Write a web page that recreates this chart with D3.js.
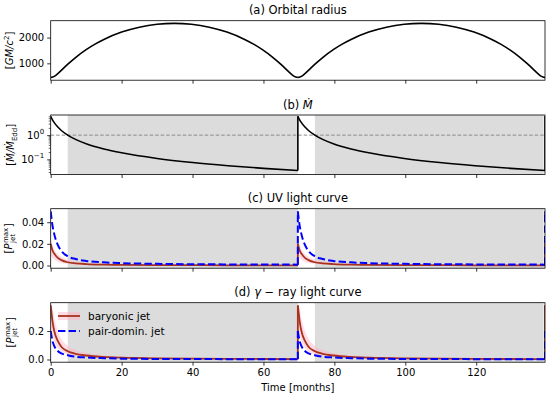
<!DOCTYPE html>
<html>
<head>
<meta charset="utf-8">
<script src="https://cdn.jsdelivr.net/npm/d3@7"></script>
<style>
body { margin: 0; background: #fff; }
text { font-family: "DejaVu Sans", sans-serif; fill: #000; }
</style>
</head>
<body>
<div id="chart"></div>
<script>
// orbit repeats, periastron at each start
var orbitStarts = [0, 69.7, 139.4];

// (a) orbital radius over one orbit
var radiusTime = [0, 1, 2, 3, 4, 5, 7, 10, 12.5, 15, 20, 25, 30, 34.85, 39.7, 44.7, 49.7, 54.7, 57.2, 59.7, 62.7, 64.7, 65.7, 66.7, 67.7, 68.7, 69.7];
var radiusVal = [450, 494, 600, 728, 861, 989, 1226, 1532, 1746, 1928, 2213, 2404, 2515, 2550, 2515, 2404, 2213, 1928, 1746, 1532, 1226, 989, 861, 728, 600, 494, 450];

// time since periastron for the light curves and accretion rate
var lcTime = [0, 0.5, 1, 2, 3, 4.8, 7, 10, 15, 20, 30, 40, 50, 60, 69.7];
var mdot = [6.0, 4.3, 3.29, 2.16, 1.56, 1.0, 0.668, 0.442, 0.269, 0.186, 0.109, 0.074, 0.0547, 0.0426, 0.0346];

var uvPair = [0.050, 0.037, 0.029, 0.019, 0.0135, 0.0085, 0.006, 0.0042, 0.0029, 0.0022, 0.0015, 0.0012, 0.001, 0.0009, 0.0008];
var uvBary = [0.020, 0.014, 0.011, 0.007, 0.005, 0.003, 0.002, 0.0013, 0.0008, 0.0006, 0.0004, 0.0003, 0.0002, 0.0002, 0.00015];
var uvBaryLo = [0.010, 0.007, 0.0055, 0.0035, 0.0025, 0.0015, 0.001, 0.0006, 0.0004, 0.0003, 0.0002, 0.00015, 0.0001, 0.0001, 0.0001];
var uvBaryHi = [0.024, 0.019, 0.015, 0.0105, 0.008, 0.0055, 0.0038, 0.0026, 0.0017, 0.0012, 0.0008, 0.0006, 0.0005, 0.0004, 0.0003];

var gamPair = [0.20, 0.13, 0.095, 0.06, 0.043, 0.03, 0.02, 0.014, 0.009, 0.006, 0.004, 0.003, 0.0025, 0.002, 0.0018];
var gamBary = [0.38, 0.27, 0.20, 0.13, 0.09, 0.058, 0.04, 0.028, 0.018, 0.013, 0.008, 0.006, 0.0045, 0.0035, 0.003];
var gamBaryLo = [0.24, 0.17, 0.125, 0.08, 0.056, 0.036, 0.025, 0.018, 0.011, 0.008, 0.005, 0.0037, 0.0028, 0.0022, 0.0019];
var gamBaryHi = [0.39, 0.36, 0.29, 0.20, 0.145, 0.095, 0.066, 0.046, 0.03, 0.021, 0.013, 0.0095, 0.0072, 0.0056, 0.0048];

// sub-Eddington intervals (shaded)
var shadeSpans = [[4.8, 69.7], [74.5, 139.0]];

var xTicks = [0, 20, 40, 60, 80, 100, 120];

var w = 550, h = 396;
var left = 50.7, right = 545;
var panelTops = [20.7, 115, 208.7, 302.7];
var ph = 59.5;

var redCol = "#a8321f", pinkCol = "#ffb0c4", blueCol = "#0000ff", shadeCol = "#dcdcdc";

var svg = d3.select("#chart").append("svg")
	.attr("width", w)
	.attr("height", h);

var x = d3.scaleLinear().domain([0, 139.4]).range([left, right]);

function makePanel(i, yScale, title) {
	var top = panelTops[i];
	var g = svg.append("g");
	g.append("clipPath").attr("id", "clip" + i)
		.append("rect").attr("x", left).attr("y", top).attr("width", right - left).attr("height", ph);
	var plot = g.append("g").attr("clip-path", "url(#clip" + i + ")");
	var t = g.append("text")
		.attr("x", (left + right) / 2).attr("y", top - 6.5)
		.attr("text-anchor", "middle")
		.attr("font-size", 11.5);
	title(t);
	return {g: g, plot: plot, top: top, y: yScale};
}

function finishPanel(p, yAxis, showX) {
	var xa = d3.axisBottom(x).tickValues(xTicks).tickSize(3.5).tickSizeOuter(0).tickPadding(3);
	if (!showX) xa.tickFormat("");
	var xg = p.g.append("g").attr("transform", "translate(0," + (p.top + ph) + ")").call(xa);
	var yg = p.g.append("g").attr("transform", "translate(" + left + ",0)").call(yAxis);
	[xg, yg].forEach(function(a) {
		a.select(".domain").remove();
		a.selectAll("line").attr("stroke", "#000").attr("stroke-width", 0.8);
		a.selectAll("text").attr("font-size", 10).attr("font-family", "DejaVu Sans");
	});
	p.g.append("rect")
		.attr("x", left).attr("y", p.top).attr("width", right - left).attr("height", ph)
		.attr("fill", "none").attr("stroke", "#000").attr("stroke-width", 0.8);
	return yg;
}

function shade(p) {
	p.plot.selectAll("rect.shade").data(shadeSpans).enter().append("rect")
		.attr("class", "shade")
		.attr("x", function(d) { return x(d[0]); })
		.attr("width", function(d) { return x(d[1]) - x(d[0]); })
		.attr("y", p.top).attr("height", ph)
		.attr("fill", shadeCol);
}

// draws one series for every orbit, plus the jump at each periastron
function drawSeries(p, vals, style) {
	var line = d3.line()
		.x(function(d, k) { return x(lcTime[k] + d.s); })
		.y(function(d) { return p.y(d.v); })
		.curve(d3.curveMonotoneX);
	orbitStarts.forEach(function(s, oi) {
		var pts = vals.map(function(v) { return {s: s, v: v}; });
		var path = p.plot.append("path").attr("d", line(pts)).attr("fill", "none");
		style(path);
		if (oi > 0) {
			var c = p.plot.append("path")
				.attr("d", "M" + x(s) + "," + p.y(vals[vals.length - 1]) + "L" + x(s) + "," + p.y(vals[0]))
				.attr("fill", "none");
			style(c);
		}
	});
}

function drawBand(p, lo, hi) {
	var area = d3.area()
		.x(function(d, k) { return x(lcTime[k] + d.s); })
		.y0(function(d) { return p.y(d.lo); })
		.y1(function(d) { return p.y(d.hi); })
		.curve(d3.curveMonotoneX);
	orbitStarts.forEach(function(s) {
		var pts = lo.map(function(v, k) { return {s: s, lo: v, hi: hi[k]}; });
		p.plot.append("path").attr("d", area(pts))
			.attr("fill", pinkCol).attr("fill-opacity", 0.45);
	});
}

function redStyle(path) { path.attr("stroke", redCol).attr("stroke-width", 1.8); }
function blueStyle(path) { path.attr("stroke", blueCol).attr("stroke-width", 2).attr("stroke-dasharray", "7.4,3.2"); }

// ---- (a) orbital radius
var pa = makePanel(0, d3.scaleLinear().domain([345, 2655]).range([panelTops[0] + ph, panelTops[0]]), function(t) {
	t.text("(a) Orbital radius");
});
var rLine = d3.line()
	.x(function(d) { return x(d.t); })
	.y(function(d) { return pa.y(d.r); })
	.curve(d3.curveMonotoneX);
orbitStarts.forEach(function(s) {
	var pts = radiusTime.map(function(t, k) { return {t: t + s, r: radiusVal[k]}; });
	pa.plot.append("path").attr("d", rLine(pts))
		.attr("fill", "none").attr("stroke", "#000").attr("stroke-width", 1.6);
});
finishPanel(pa, d3.axisLeft(pa.y).tickValues([1000, 2000]).tickFormat(d3.format("d")).tickSize(3.5).tickSizeOuter(0).tickPadding(3), false);

// ---- (b) accretion rate
var pb = makePanel(1, d3.scaleLog().domain([0.0237, 6.8]).range([panelTops[1] + ph, panelTops[1]]), function(t) {
	t.append("tspan").text("(b) ");
	t.append("tspan").attr("font-style", "italic").text("Ṁ");
});
shade(pb);
pb.plot.append("line")
	.attr("x1", left).attr("x2", right)
	.attr("y1", pb.y(1)).attr("y2", pb.y(1))
	.attr("stroke", "#808080").attr("stroke-width", 0.9).attr("stroke-dasharray", "3.5,2");
drawSeries(pb, mdot, function(path) { path.attr("stroke", "#000").attr("stroke-width", 1.6); });
var minorB = [0.03, 0.04, 0.05, 0.06, 0.07, 0.08, 0.09, 0.2, 0.3, 0.4, 0.5, 0.6, 0.7, 0.8, 0.9, 2, 3, 4, 5, 6];
pb.g.append("g").attr("transform", "translate(" + left + ",0)")
	.call(d3.axisLeft(pb.y).tickValues(minorB).tickSize(2).tickFormat(""))
	.call(function(a) {
		a.select(".domain").remove();
		a.selectAll("line").attr("stroke", "#000").attr("stroke-width", 0.6);
	});
var ybAxis = finishPanel(pb, d3.axisLeft(pb.y).tickValues([0.1, 1]).tickSize(3.5).tickPadding(3).tickFormat(""), false);
ybAxis.selectAll(".tick text").each(function(d) {
	var tx = d3.select(this);
	tx.text("10");
	tx.append("tspan").attr("dy", -5).attr("font-size", 7).text(d === 1 ? "0" : "\u22121");
});

// ---- (c) UV light curve
var pc = makePanel(2, d3.scaleLinear().domain([-0.0025, 0.0525]).range([panelTops[2] + ph, panelTops[2]]), function(t) {
	t.text("(c) UV light curve");
});
shade(pc);
drawBand(pc, uvBaryLo, uvBaryHi);
drawSeries(pc, uvBary, redStyle);
drawSeries(pc, uvPair, blueStyle);
finishPanel(pc, d3.axisLeft(pc.y).tickValues([0, 0.02, 0.04]).tickFormat(d3.format(".2f")).tickSize(3.5).tickPadding(3), false);

// ---- (d) gamma-ray light curve
var pd = makePanel(3, d3.scaleLinear().domain([-0.019, 0.399]).range([panelTops[3] + ph, panelTops[3]]), function(t) {
	t.append("tspan").text("(d) ");
	t.append("tspan").attr("font-style", "italic").text("γ");
	t.append("tspan").text(" − ray light curve");
});
shade(pd);
drawBand(pd, gamBaryLo, gamBaryHi);
drawSeries(pd, gamBary, redStyle);
drawSeries(pd, gamPair, blueStyle);
finishPanel(pd, d3.axisLeft(pd.y).tickValues([0, 0.2]).tickFormat(d3.format(".1f")).tickSize(3.5).tickPadding(3), true);

// legend
var legend = pd.g.append("g");
legend.append("rect").attr("x", 58).attr("y", 312).attr("width", 22).attr("height", 8)
	.attr("fill", pinkCol).attr("fill-opacity", 0.45);
legend.append("line").attr("x1", 58).attr("x2", 80).attr("y1", 316).attr("y2", 316)
	.call(redStyle);
legend.append("line").attr("x1", 58).attr("x2", 80).attr("y1", 331).attr("y2", 331)
	.call(blueStyle);
legend.append("text").attr("x", 88).attr("y", 319.5).attr("font-size", 10.5).text("baryonic jet");
legend.append("text").attr("x", 88).attr("y", 334.5).attr("font-size", 10.5).text("pair-domin. jet");

// x label
svg.append("text")
	.attr("x", (left + right) / 2).attr("y", 391)
	.attr("text-anchor", "middle").attr("font-size", 10)
	.text("Time [months]");

// y labels
function yLabel(cx, cy, build) {
	var t = svg.append("text")
		.attr("transform", "translate(" + cx + "," + cy + ") rotate(-90)")
		.attr("text-anchor", "middle")
		.attr("font-size", 10);
	build(t);
}
yLabel(13, panelTops[0] + ph / 2, function(t) {
	t.append("tspan").text("[");
	t.append("tspan").attr("font-style", "italic").text("GM/c");
	t.append("tspan").attr("dy", -4).attr("font-size", 7).text("2");
	t.append("tspan").attr("dy", 4).text("]");
});
yLabel(14, panelTops[1] + ph / 2, function(t) {
	t.append("tspan").text("[");
	t.append("tspan").attr("font-style", "italic").text("Ṁ/Ṁ");
	t.append("tspan").attr("dy", 2.5).attr("font-size", 7).text("Edd");
	t.append("tspan").attr("dy", -2.5).text("]");
});
// P_jet^max with stacked sub/superscript
[2, 3].forEach(function(i) {
	var cx = i === 2 ? 12 : 14;
	var g = svg.append("g").attr("transform", "translate(" + cx + "," + (panelTops[i] + ph / 2) + ") rotate(-90)");
	var parts = g.append("g");
	var a = parts.append("text").attr("font-size", 10).attr("y", 0).text("[");
	var wa = a.node().getComputedTextLength();
	var p = parts.append("text").attr("font-size", 10).attr("font-style", "italic").attr("x", wa).text("P");
	var wp = p.node().getComputedTextLength();
	var sup = parts.append("text").attr("font-size", 7).attr("x", wa + wp + 0.5).attr("y", -4).text("max");
	parts.append("text").attr("font-size", 7).attr("x", wa + wp + 0.5).attr("y", 3).text("jet");
	var ws = sup.node().getComputedTextLength();
	var b = parts.append("text").attr("font-size", 10).attr("x", wa + wp + ws + 1).text("]");
	var total = wa + wp + ws + 1 + b.node().getComputedTextLength();
	parts.attr("transform", "translate(" + (-total / 2) + ",0)");
});
</script>
</body>
</html>
